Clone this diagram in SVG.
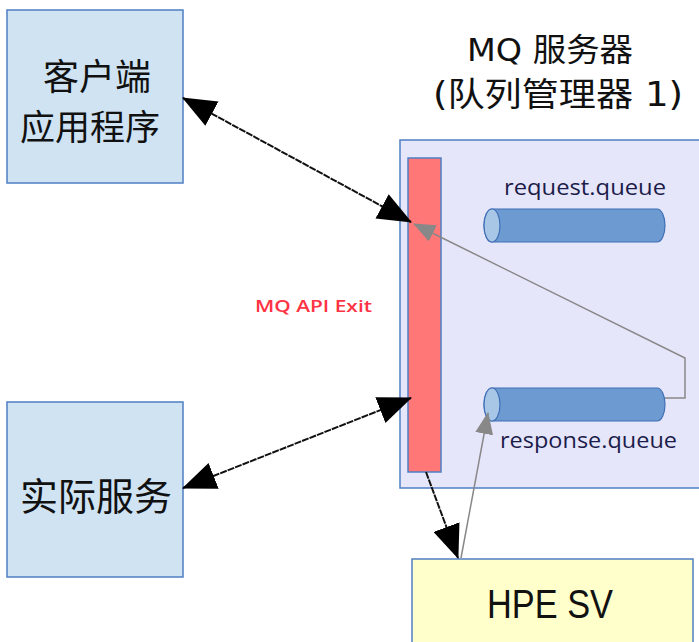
<svg xmlns="http://www.w3.org/2000/svg" width="699" height="642" viewBox="0 0 699 642">
<style>
.box{stroke:#4f7fc4;stroke-width:1.5}
.cjk{font-family:"DejaVu Sans","Noto Sans CJK SC",sans-serif;fill:#111}
.lbl{font-family:"Open Sans","Liberation Sans",sans-serif;fill:#1c1c4a;font-weight:500}
.blk{stroke:#111;stroke-width:2;fill:none;stroke-dasharray:7 1}
.gry{stroke:#888;stroke-width:1.5;fill:none}
.cyl{fill:#6d9bd1;stroke:#3f6fb5;stroke-width:1.2}
.cap{fill:#a8c6e6;stroke:#3f6fb5;stroke-width:1.2}
</style>
<defs>
<marker id="ab" markerUnits="userSpaceOnUse" markerWidth="34" markerHeight="28" viewBox="0 0 32 26" refX="31" refY="13" orient="auto-start-reverse">
<path d="M0,0 L32,13 L0,26 z" fill="#000"/>
</marker>
<marker id="ag" markerUnits="userSpaceOnUse" markerWidth="22" markerHeight="18" viewBox="0 0 22 18" refX="21" refY="9" orient="auto">
<path d="M0,0 L22,9 L0,18 z" fill="#888"/>
</marker>
</defs>
<g id="mq-server">
<rect class="box" x="400" y="140" width="320" height="348" fill="#e6e6fa"/>
<text class="cjk" font-size="32" x="467" y="61" textLength="166" lengthAdjust="spacingAndGlyphs">MQ 服务器</text>
<text class="cjk" font-size="33" x="433" y="106" textLength="250" lengthAdjust="spacingAndGlyphs">(队列管理器 1)</text>
</g>
<g id="mq-api-exit">
<rect class="box" x="408" y="158" width="33" height="314" fill="#ff7777"/>
<text x="255" y="312" font-family="'Open Sans','Liberation Sans',sans-serif" font-weight="600" font-size="16" fill="#ff3344" textLength="117" lengthAdjust="spacingAndGlyphs">MQ API Exit</text>
</g>
<g id="request-queue">
<path class="cyl" d="M492,209 L657,209 A8,16.5 0 0 1 657,242 L492,242 A8,16.5 0 0 1 492,209 z"/>
<ellipse class="cap" cx="492" cy="225.5" rx="8" ry="16.5"/>
<text class="lbl" x="504" y="195" font-size="21" textLength="162" lengthAdjust="spacingAndGlyphs">request.queue</text>
</g>
<g id="response-queue">
<path class="cyl" d="M492,388 L657,388 A8,16.5 0 0 1 657,421 L492,421 A8,16.5 0 0 1 492,388 z"/>
<ellipse class="cap" cx="492" cy="404.5" rx="8" ry="16.5"/>
<text class="lbl" x="500" y="448" font-size="21" textLength="177" lengthAdjust="spacingAndGlyphs">response.queue</text>
</g>
<g id="client-app">
<rect class="box" x="7" y="10" width="176" height="173" fill="#cfe3f3"/>
<text class="cjk" text-anchor="middle" font-size="36" x="97" y="90">客户端</text>
<text class="cjk" text-anchor="middle" font-size="35" x="90" y="140">应用程序</text>
</g>
<g id="real-service">
<rect class="box" x="7" y="402" width="176" height="175" fill="#cfe3f3"/>
<text class="cjk" text-anchor="middle" font-size="38" x="96" y="510">实际服务</text>
</g>
<g id="hpe-sv">
<rect class="box" x="412" y="559" width="281" height="100" fill="#ffffcc"/>
<text x="487" y="618" font-family="'Liberation Sans',sans-serif" font-size="41" fill="#111" textLength="126" lengthAdjust="spacingAndGlyphs">HPE SV</text>
</g>
<g id="connectors">
<line class="blk" x1="183" y1="98" x2="411" y2="222" marker-start="url(#ab)" marker-end="url(#ab)"/>
<line class="blk" x1="183" y1="488" x2="411" y2="398" marker-start="url(#ab)" marker-end="url(#ab)"/>
<line class="blk" x1="426" y1="472" x2="458" y2="558" marker-end="url(#ab)"/>
<line class="gry" x1="461" y1="558" x2="488" y2="413" marker-end="url(#ag)"/>
<polyline class="gry" points="665,398 685,398 685,358 414,224" marker-end="url(#ag)"/>
</g>
</svg>
